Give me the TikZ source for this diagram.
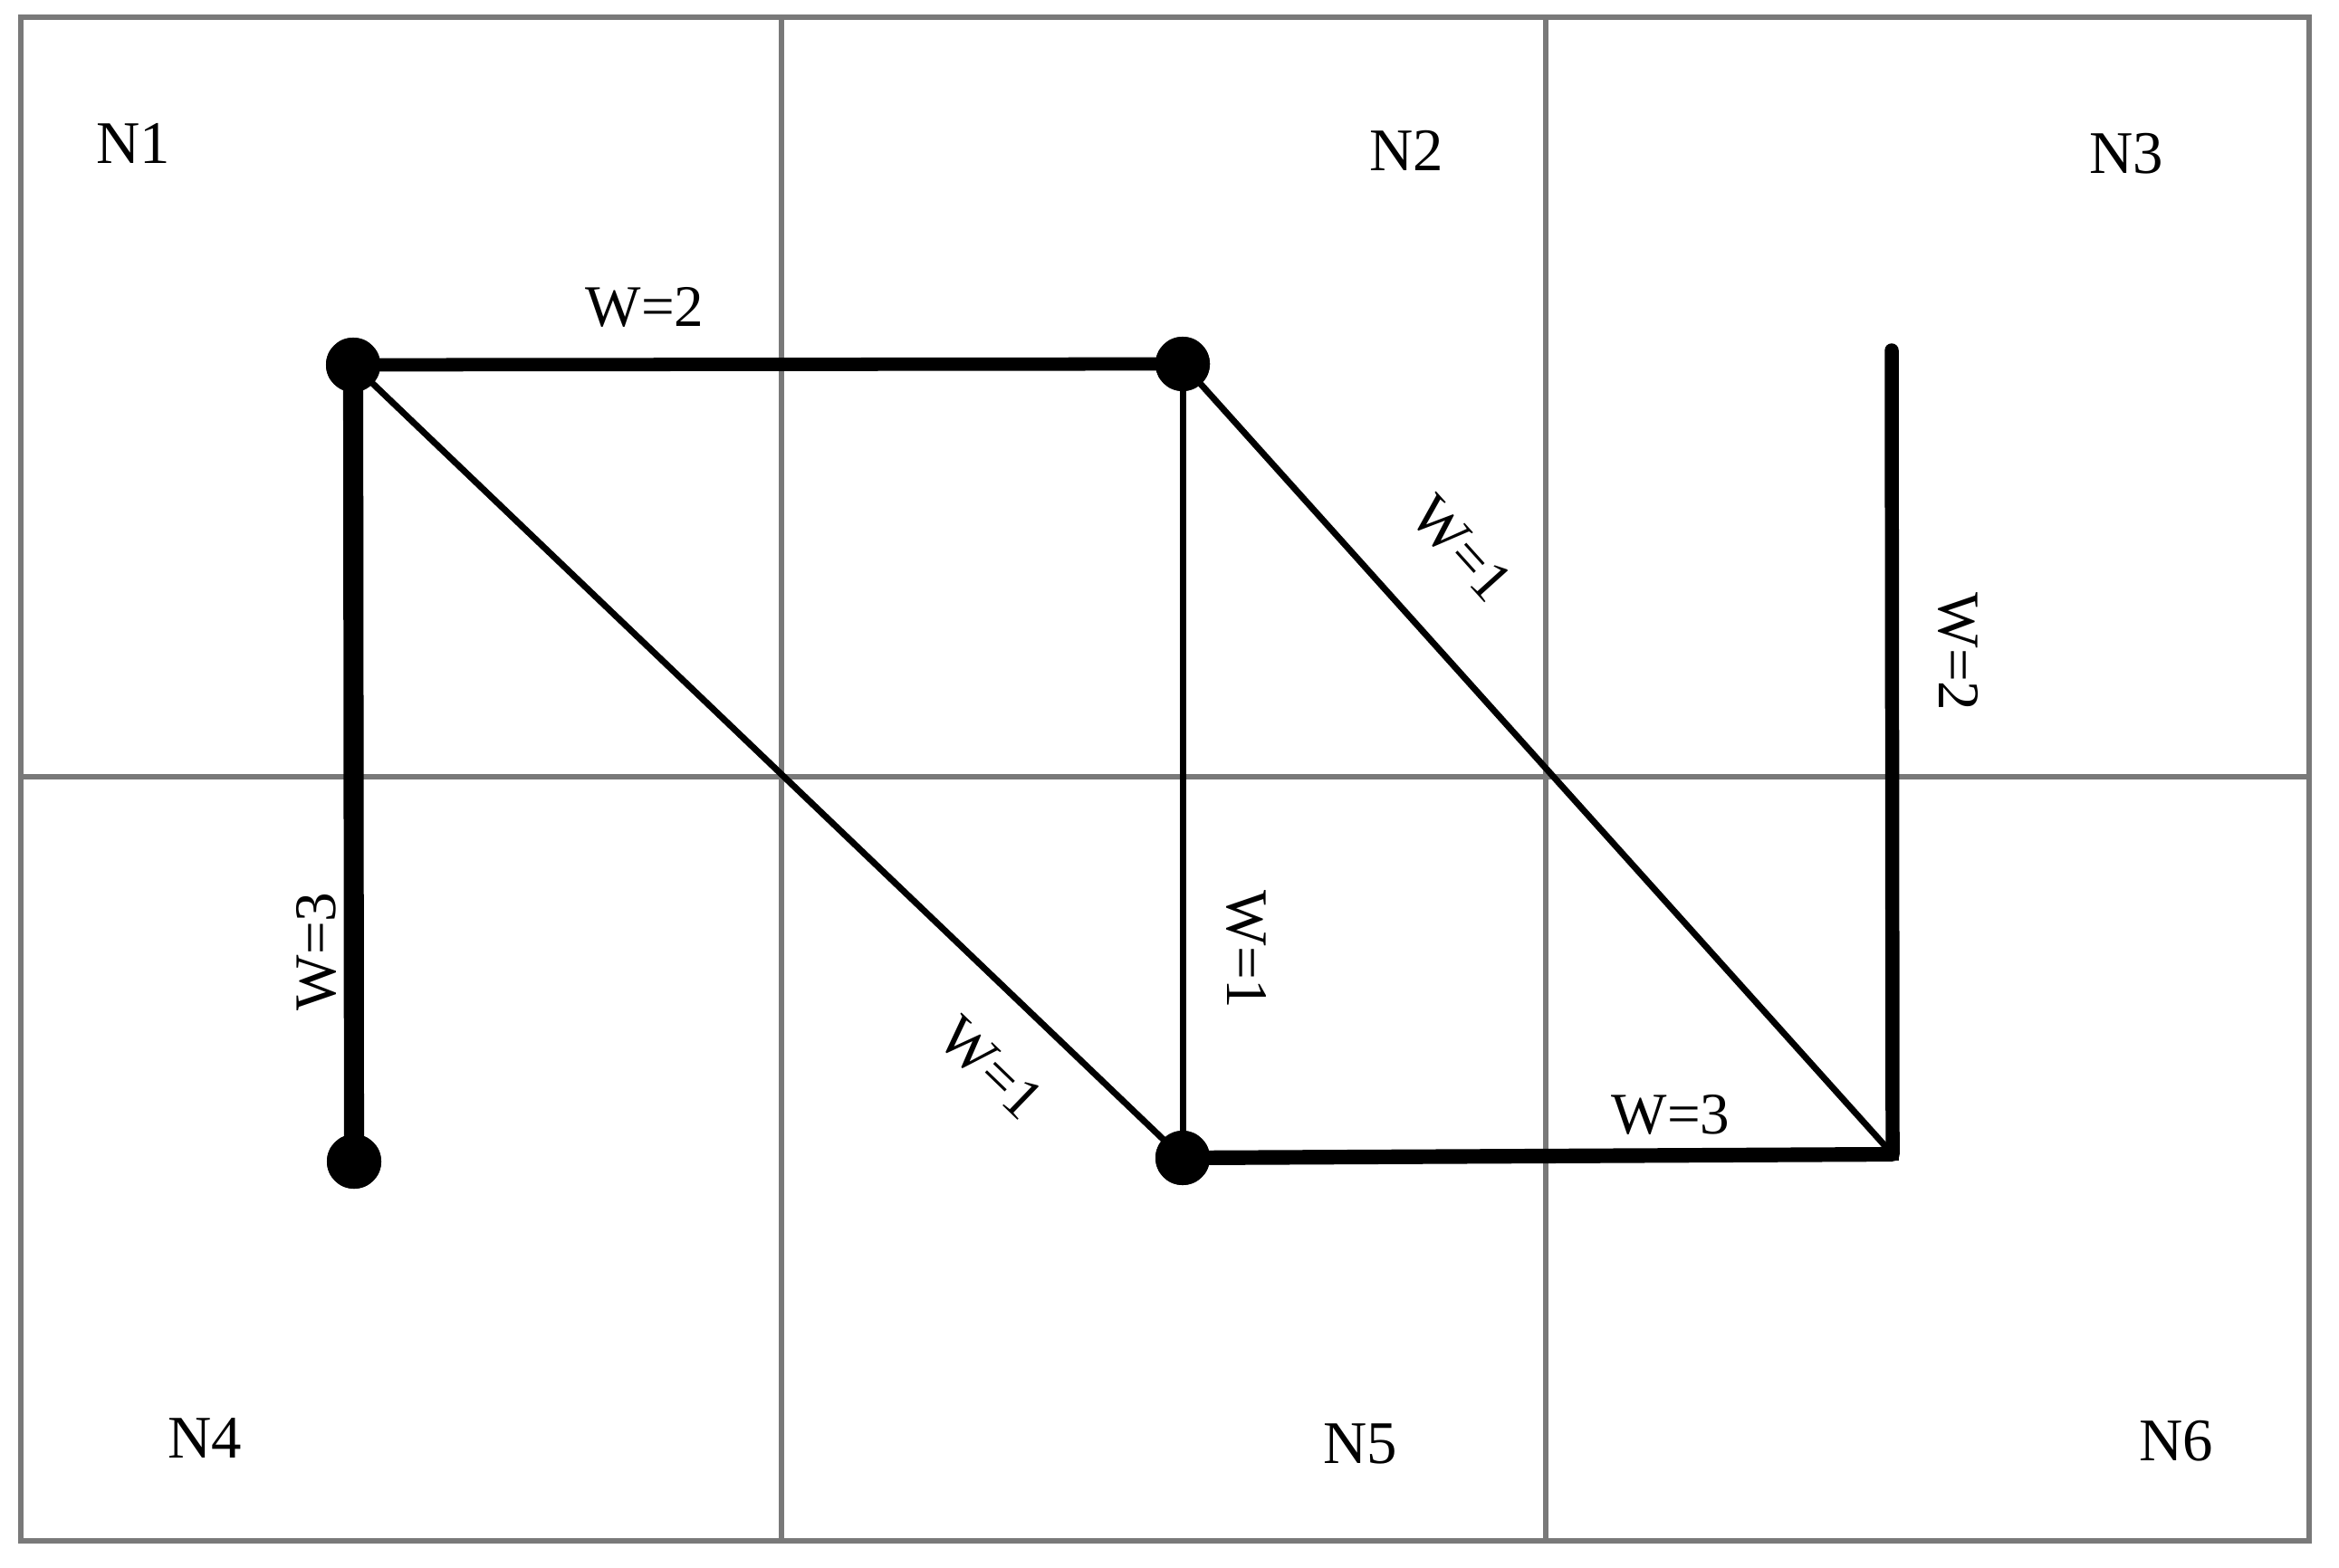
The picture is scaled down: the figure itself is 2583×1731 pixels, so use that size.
\documentclass[tikz,border=0pt]{standalone}
\usepackage{fontspec}
\setmainfont{Liberation Serif}
\begin{document}
\begin{tikzpicture}[x=0.01cm,y=-0.01cm,
  gridline/.style={draw=gray!95!black, line width=1.6pt},
  dot/.style={circle, fill=black, inner sep=0pt, minimum size=0.6cm},
  thin edge/.style={line width=2pt},
  lbl/.style={font=\fontsize{19}{22}\selectfont, inner sep=1pt},
  wlbl/.style={font=\fontsize{18.5}{22}\selectfont, inner sep=1pt}]
\useasboundingbox (0,0) rectangle (2583,1731);
% grid
\draw[gridline] (23,19) rectangle (2550,1702);
\draw[gridline] (863,19) -- (863,1702);
\draw[gridline] (1707,19) -- (1707,1702);
\draw[gridline] (23,858) -- (2550,858);
% region labels
\node[lbl] (N1) at (147,158) {N1};
\node[lbl] (N2) at (1553,166) {N2};
\node[lbl] (N3) at (2348,170) {N3};
\node[lbl] (N4) at (226,1588) {N4};
\node[lbl] (N5) at (1502,1595) {N5};
\node[lbl] (N6) at (2403,1592) {N6};
% vertices
\node[dot] (a) at (390,403) {};
\node[dot] (b) at (1306,402) {};
\node[dot] (d) at (391,1283) {};
\node[dot] (e) at (1306,1279) {};
\coordinate (c) at (2090,1275);
\coordinate (t) at (2089,387);
% edges
\draw[thin edge] (a.center) -- (e.center);
\draw[thin edge] (b.center) -- (e.center);
\draw[thin edge] (b.center) -- (c);
\draw[line width=4.2pt] (a.center) -- (b.center);
\draw[line width=6.3pt] (a.center) -- (d.center);
\draw[line width=4.6pt] (e.center) -- (c);
\draw[line width=4.4pt, line cap=round] (t) -- (c);
\fill (2083,1268) rectangle (2097,1282);
% redraw dots on top
\node[dot] at (a) {};
\node[dot] at (b) {};
\node[dot] at (d) {};
\node[dot] at (e) {};
% weight labels
\node[wlbl] (wab) at (712,339) {W=2};
\node[wlbl, rotate=-48] (wbc) at (1614,606) {W=1};
\node[wlbl, rotate=-90] (wtc) at (2163,720) {W=2};
\node[wlbl, rotate=90] (wad) at (349,1051) {W=3};
\node[wlbl, rotate=-90] (wbe) at (1376,1049) {W=1};
\node[wlbl, rotate=-44] (wae) at (1094,1180) {W=1};
\node[wlbl] (wec) at (1845,1231) {W=3};
\end{tikzpicture}
\end{document}
